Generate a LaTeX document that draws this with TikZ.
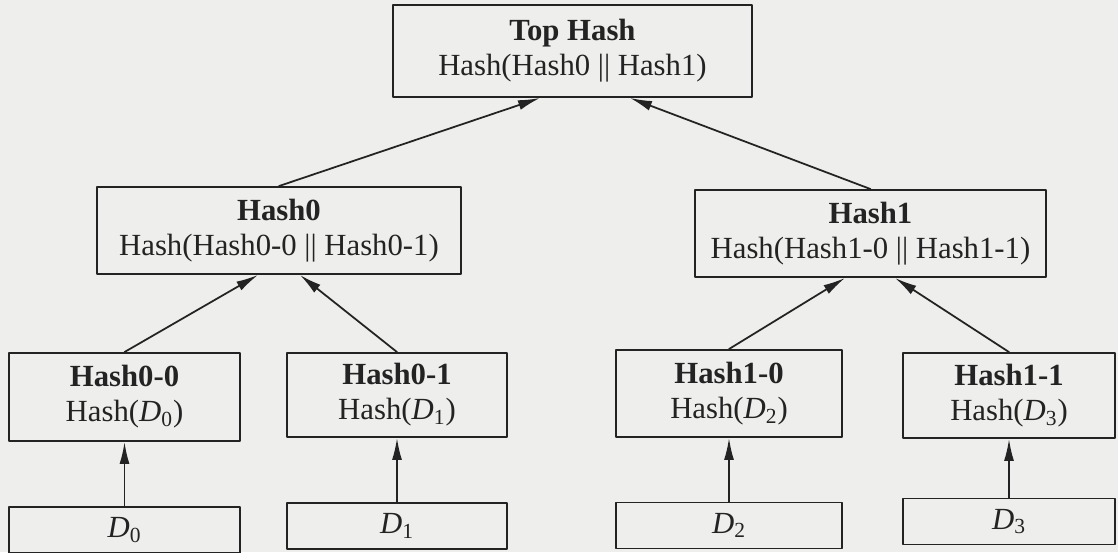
\documentclass[tikz,border=0pt]{standalone}
\usepackage{fontspec}
\setmainfont{Liberation Serif}
\usetikzlibrary{arrows.meta}
\definecolor{paper}{RGB}{238,238,236}
\definecolor{ink}{RGB}{35,35,35}
\tikzset{
	box/.style={draw=ink, line width=1.1pt, text=ink, align=center, inner sep=0pt},
	datbox/.style={box, minimum height=.92cm},
	link/.style={->, draw=ink, line width=1pt}
}
\newcommand{\dat}[1]{\textit{D}\textsubscript{#1}}
\begin{document}
\begin{tikzpicture}[x=.02cm, y=-.02cm, font=\fontsize{17.5}{20}\selectfont, line join=round, line cap=round, >={Latex[length=.44cm,width=.2cm]}]
	\fill[paper] (0,0) rectangle (1118,552);
	\useasboundingbox (0,0) rectangle (1118,552);
	% tree of hashes
	\path
	(572.5,51) node[box, minimum width=7.18cm, minimum height=1.84cm] (top) {\textbf{Top Hash}\\Hash(Hash0 || Hash1)}
	(279,230.5) node[box, minimum width=7.28cm, minimum height=1.74cm] (h0) {\textbf{Hash0}\\Hash(Hash0-0 || Hash0-1)}
	(870.5,233.5) node[box, minimum width=7.02cm, minimum height=1.74cm] (h1) {\textbf{Hash1}\\Hash(Hash1-0 || Hash1-1)}
	(124.5,397) node[box, minimum width=4.62cm, minimum height=1.76cm] (h00) {\textbf{Hash0-0}\\Hash(\dat{0})}
	(397,395) node[box, minimum width=4.4cm, minimum height=1.68cm] (h01) {\textbf{Hash0-1}\\Hash(\dat{1})}
	(729,393.5) node[box, minimum width=4.52cm, minimum height=1.74cm] (h10) {\textbf{Hash1-0}\\Hash(\dat{2})}
	(1009,395.5) node[box, minimum width=4.24cm, minimum height=1.7cm] (h11) {\textbf{Hash1-1}\\Hash(\dat{3})}
	% data blocks
	(124.5,530) node[datbox, minimum width=4.62cm] (d0) {\dat{0}}
	(397,526) node[datbox, minimum width=4.4cm] (d1) {\dat{1}}
	(729,525.5) node[datbox, minimum width=4.52cm] (d2) {\dat{2}}
	(1009,521.5) node[datbox, minimum width=4.24cm] (d3) {\dat{3}}
	;
	\foreach \d/\h in {d0/h00, d1/h01, d2/h10, d3/h11}
	\draw[link] (\d) -- (\h);
	\foreach \a/\b/\s in {h0/top/-.65, h1/top/1.15, h00/h0/-.42, h01/h0/.42, h10/h1/-.51, h11/h1/.49}
	\draw[link] (\a.north) -- ([xshift=\s cm]\b.south);
\end{tikzpicture}
\end{document}
